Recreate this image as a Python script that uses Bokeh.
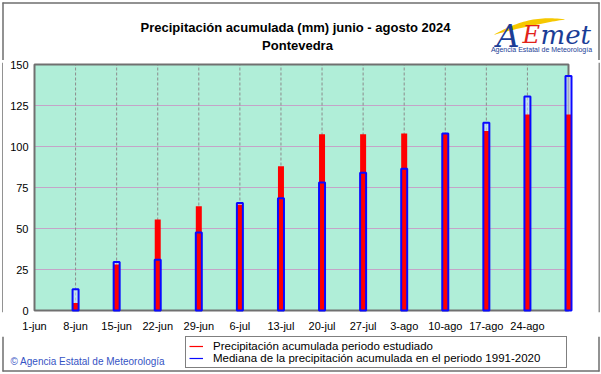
import numpy as np
from bokeh.plotting import figure
from bokeh.layouts import column, row
from bokeh.models import Range1d, FixedTicker, Label, Legend, LegendItem
from bokeh.embed import file_html
from bokeh.resources import INLINE

# ---- data ----
bar_days = [7, 14, 21, 28, 35, 42, 49, 56, 63, 70, 77, 84, 91]
bar_dates = ["8-jun", "15-jun", "22-jun", "29-jun", "6-jul", "13-jul", "20-jul",
             "27-jul", "3-ago", "10-ago", "17-ago", "24-ago", "31-ago"]
precip = [4.5, 28, 55.5, 63.5, 64.5, 88, 107.5, 107.5, 108, 108, 109.5, 119.5, 119.5]
median = [13, 29.5, 31, 47.5, 65.5, 68.5, 78, 84, 86.5, 108, 114.5, 130.5, 143]
tick_days = [0, 7, 14, 21, 28, 35, 42, 49, 56, 63, 70, 77, 84]
tick_labels = ["1-jun", "8-jun", "15-jun", "22-jun", "29-jun", "6-jul", "13-jul",
               "20-jul", "27-jul", "3-ago", "10-ago", "17-ago", "24-ago"]
y_ticks = [0, 25, 50, 75, 100, 125, 150]
period_end = 91
y_max = 150

title1 = "Precipitación acumulada (mm) junio - agosto 2024"
title2 = "Pontevedra"
leg1 = "Precipitación acumulada periodo estudiado"
leg2 = "Mediana de la precipitación acumulada en el periodo 1991-2020"
credit = "© Agencia Estatal de Meteorología"
logo_sub = "Agencia Estatal de Meteorología"

# ---- layout constants (page pixels) ----
W, H = 601, 374
HEAD_H = 60
FOOT_Y = 336
BOX_L, BOX_R, BOX_T, BOX_B = 34, 568, 64, 310      # plot box: day 0..91, value 0..150
FR_L, FR_R, FR_T, FR_B = 32, 573, 62, 312          # main frame
FONT = "Liberation Sans"
BORDER = "#6e6e6e"
LOGO_BLUE = "#1b3d96"


def bare(fig):
    fig.background_fill_color = "white"
    fig.border_fill_color = "white"
    fig.outline_line_color = None
    fig.axis.visible = False
    fig.grid.visible = False
    return fig


# ---------- header ----------
hd = bare(figure(width=W, height=HEAD_H, output_backend="svg", toolbar_location=None,
                 title=None, x_range=Range1d(0, W), y_range=Range1d(HEAD_H, 0),
                 min_border=0))
hd.segment(x0=[2, 2.5, 598.5], x1=[599, 2.5, 598.5], y0=[2.5, 2, 2], y1=[2.5, HEAD_H, HEAD_H],
           line_color=BORDER, line_width=1.5)
hd.add_layout(Label(x=295, y=27, text=title1, text_align="center", text_baseline="middle",
                    text_font=FONT, text_font_size="13px", text_font_style="bold",
                    text_color="black"))
hd.add_layout(Label(x=297, y=45, text=title2, text_align="center", text_baseline="middle",
                    text_font=FONT, text_font_size="13px", text_font_style="bold",
                    text_color="black"))
# logo swoosh
t = np.linspace(0, 1, 30)
xc = 494 + 70 * t
yc = 34 - 15 * (1 - (1 - t) ** 2)
th = 5.5 * np.sin(np.pi * t) + 0.4
hd.patch(x=np.concatenate([xc, xc[::-1]]), y=np.concatenate([yc - th / 2, (yc + th / 2)[::-1]]),
         fill_color="#f6c800", line_color=None)
hd.add_layout(Label(x=496, y=35, text="A", text_align="left", text_baseline="alphabetic",
                    text_font="DejaVu Serif", text_font_size="32px", text_font_style="italic",
                    text_color=LOGO_BLUE))
hd.add_layout(Label(x=522, y=34, text="E", text_align="left", text_baseline="alphabetic",
                    text_font="DejaVu Serif", text_font_size="24px", text_font_style="italic",
                    text_color="#e2231a"))
hd.add_layout(Label(x=540, y=34, text="met", text_align="left", text_baseline="alphabetic",
                    text_font="DejaVu Serif", text_font_size="26px", text_font_style="italic",
                    text_color=LOGO_BLUE))
hd.add_layout(Label(x=541, y=49, text=logo_sub, text_align="center", text_baseline="middle",
                    text_font=FONT, text_font_size="7px", text_color=LOGO_BLUE))

# ---------- side strips (outer picture border) ----------
MID_H = FOOT_Y - HEAD_H


def strip(xline):
    s = bare(figure(width=3, height=MID_H, output_backend="svg", toolbar_location=None,
                    title=None, x_range=Range1d(0, 3), y_range=Range1d(0, MID_H),
                    min_border=0))
    s.segment(x0=[xline], x1=[xline], y0=[0], y1=[MID_H], line_color=BORDER, line_width=1.5)
    return s


left_strip = strip(2.5)
right_strip = strip(0.5)

# ---------- main chart ----------
ppd = (BOX_R - BOX_L) / period_end
ppv = (BOX_B - BOX_T) / y_max
x_rng = Range1d((FR_L - BOX_L) / ppd, (FR_R - BOX_L) / ppd)
y_rng = Range1d(-(FR_B - BOX_B) / ppv, y_max + (BOX_T - FR_T) / ppv)

p = figure(width=595, height=MID_H, output_backend="svg", toolbar_location=None, title=None,
           x_range=x_rng, y_range=y_rng,
           min_border_left=FR_L - 3, min_border_right=598 - FR_R,
           min_border_top=FR_T - HEAD_H, min_border_bottom=FOOT_Y - FR_B)
p.background_fill_color = "white"
p.border_fill_color = "white"
p.outline_line_color = None
p.xgrid.visible = False
p.ygrid.visible = False

p.quad(left=0, right=period_end, bottom=0, top=y_max, fill_color="#b0eed8", line_color=None)
hy = y_ticks[1:-1]
p.segment(x0=[0] * len(hy), x1=[period_end] * len(hy), y0=hy, y1=hy,
          line_color="#c4a4c8", line_width=1)
vx = tick_days[1:]
p.segment(x0=vx, x1=vx, y0=[0] * len(vx), y1=[y_max] * len(vx),
          line_color="#8c8c8c", line_width=1, line_dash="3 2")
p.quad(left=0, right=period_end, bottom=0, top=y_max, fill_color=None,
       line_color="#707070", line_width=2)

med = np.array(median, dtype=float)
pre = np.array(precip, dtype=float)
p.rect(x=bar_days, y=med / 2, width=6, height=med, width_units="screen",
       fill_color="#d4dcff", fill_alpha=0.55, line_color=None)
p.rect(x=bar_days, y=pre / 2, width=6, height=pre, width_units="screen",
       fill_color="#ff0000", line_color=None)
p.rect(x=bar_days, y=med / 2, width=6, height=med, width_units="screen",
       fill_color=None, line_color="#0a0aff", line_width=2)

p.xaxis.ticker = FixedTicker(ticks=tick_days)
p.xaxis.major_label_overrides = {d: l for d, l in zip(tick_days, tick_labels)}
p.yaxis.ticker = FixedTicker(ticks=y_ticks)
for ax in (p.xaxis[0], p.yaxis[0]):
    ax.axis_line_color = None
    ax.major_tick_line_color = None
    ax.minor_tick_line_color = None
    ax.major_tick_out = 0
    ax.major_tick_in = 0
    ax.major_label_text_font = FONT
    ax.major_label_text_font_size = "11px"
    ax.major_label_text_color = "black"
p.xaxis.major_label_standoff = 7
p.yaxis.major_label_standoff = 4

# ---------- footer ----------
FOOT_H = H - FOOT_Y
ft = bare(figure(width=W, height=FOOT_H, output_backend="svg", toolbar_location=None,
                 title=None, x_range=Range1d(0, W), y_range=Range1d(H, FOOT_Y),
                 min_border=0))
ft.segment(x0=[2, 2.5, 598.5], x1=[599, 2.5, 598.5], y0=[370.5, FOOT_Y, FOOT_Y],
           y1=[370.5, 371, 371], line_color=BORDER, line_width=1.5)
# legend line samples (their data lie outside the visible footer range)
l1 = ft.line(x=[0, 1], y=[0, 0], line_color="#ff0000", line_width=1.2)
l2 = ft.line(x=[0, 1], y=[0, 0], line_color="#0a0aff", line_width=1.2)
legend = Legend(items=[LegendItem(label=leg1, renderers=[l1]),
                       LegendItem(label=leg2, renderers=[l2])],
                location=(185, H - 368), orientation="vertical",
                padding=3, spacing=0, margin=0,
                glyph_width=14, glyph_height=12, label_height=12,
                label_standoff=10, label_width=350,
                label_text_font=FONT, label_text_font_size="11.5px",
                label_text_color="black",
                border_line_color="black", border_line_width=1,
                background_fill_color="white", background_fill_alpha=1)
ft.add_layout(legend, "center")
ft.add_layout(Label(x=10, y=361, text=credit, text_align="left", text_baseline="middle",
                    text_font=FONT, text_font_size="10px", text_color="#3553c4"))

layout = column(hd, row(left_strip, p, right_strip), ft)

html = file_html(layout, INLINE, title="Precipitación acumulada")
html = html.replace("<head>", "<head><style>html,body{margin:0;padding:0;overflow:hidden}</style>", 1)
with open("out.html", "w", encoding="utf-8") as f:
    f.write(html)
